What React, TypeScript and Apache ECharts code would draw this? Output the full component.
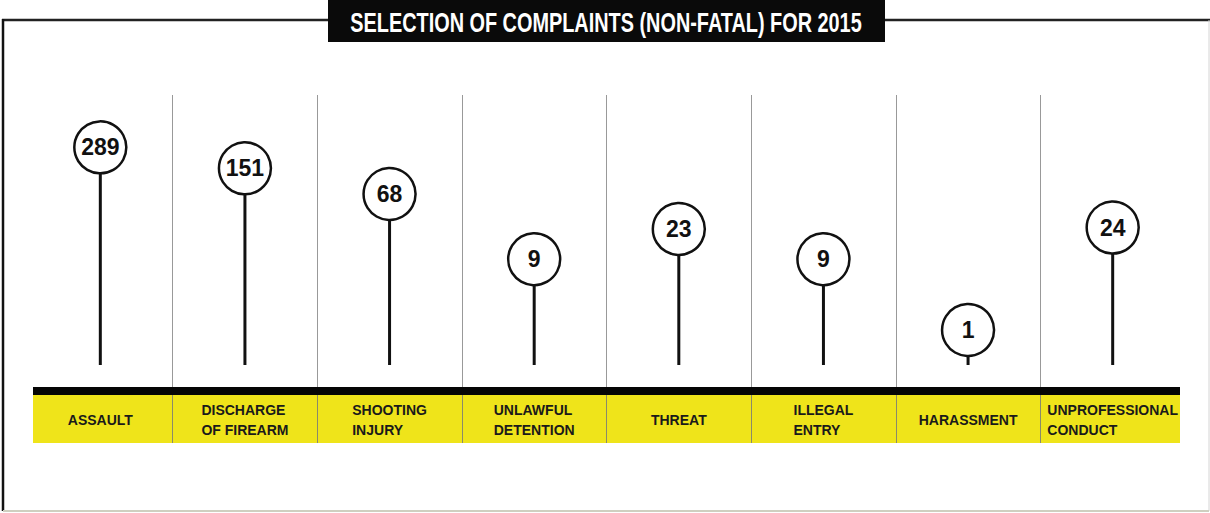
import React, { useEffect, useRef } from "react";
import * as echarts from "echarts";

const categories = [
  "ASSAULT",
  "DISCHARGE\nOF FIREARM",
  "SHOOTING\nINJURY",
  "UNLAWFUL\nDETENTION",
  "THREAT",
  "ILLEGAL\nENTRY",
  "HARASSMENT",
  "UNPROFESSIONAL\nCONDUCT",
];
const complaints = [289, 151, 68, 9, 23, 9, 1, 24];
const titleText = "SELECTION OF COMPLAINTS (NON-FATAL) FOR 2015";

const Y_MIN = 0.337;
const Y_MAX = 1468;
const FONT = "'Liberation Sans', Arial, sans-serif";

function measure(text: string, font: string): number {
  const c = document.createElement("canvas");
  const ctx = c.getContext("2d");
  if (!ctx) return 600;
  ctx.font = font;
  return ctx.measureText(text).width;
}

export default function App() {
  const ref = useRef<HTMLDivElement>(null);
  useEffect(() => {
    if (!ref.current) return;
    const chart = echarts.init(ref.current, undefined, { renderer: "svg" });
    const titleFont = `bold 28px ${FONT}`;
    const titleScale = 512 / measure(titleText, titleFont);
    const option: any = {
      animation: false,
      backgroundColor: "#ffffff",
      grid: { left: 28, right: 25, top: 95, bottom: 148 },
      xAxis: [
        {
          type: "category",
          data: categories,
          position: "bottom",
          offset: 26,
          boundaryGap: true,
          z: 3,
          axisLine: { show: false },
          axisTick: { show: true, inside: false, length: 52, lineStyle: { color: "#8a8a6a", width: 1 } },
          axisLabel: {
            show: true,
            interval: 0,
            margin: 29,
            verticalAlign: "middle",
            formatter: (v: string) => v.split("\n").map((l) => `{a|${l}}`).join("\n"),
            rich: {
              a: {
                align: "left",
                fontFamily: FONT,
                fontWeight: "bold",
                fontSize: 14,
                lineHeight: 20,
                color: "#1a1a1a",
              },
            },
          },
          splitLine: { show: true, showMinLine: false, showMaxLine: false, lineStyle: { color: "#999999", width: 1 } },
        },
        {
          type: "category",
          data: categories,
          position: "bottom",
          offset: 26,
          boundaryGap: true,
          axisLine: { show: false },
          axisTick: { show: true, inside: true, length: 26, lineStyle: { color: "#999999", width: 1 } },
          axisLabel: { show: false },
          splitLine: { show: false },
        },
      ],
      yAxis: {
        type: "log",
        logBase: 10,
        min: Y_MIN,
        max: Y_MAX,
        show: false,
        splitLine: { show: false },
      },
      graphic: [
        { type: "line", z: -20, shape: { x1: 2, y1: 20, x2: 1210, y2: 20 }, style: { stroke: "#222", lineWidth: 2.5 } },
        { type: "line", z: -20, shape: { x1: 3, y1: 19, x2: 3, y2: 511 }, style: { stroke: "#111", lineWidth: 2.5 } },
        { type: "line", z: -20, shape: { x1: 1209, y1: 20, x2: 1209, y2: 511 }, style: { stroke: "#d4d4d4", lineWidth: 1 } },
        { type: "line", z: -20, shape: { x1: 3, y1: 511, x2: 1209, y2: 511 }, style: { stroke: "#cfcfc0", lineWidth: 2 } },
        { type: "rect", z: -10, shape: { x: 328, y: 0, width: 557, height: 42 }, style: { fill: "#0a0a0a" } },
        {
          type: "text",
          z: 10,
          x: 606,
          y: 22,
          scaleX: titleScale,
          style: {
            text: titleText,
            fill: "#ffffff",
            font: titleFont,
            textAlign: "center",
            textVerticalAlign: "middle",
          },
        },
        { type: "rect", z: -5, shape: { x: 33, y: 395, width: 1147, height: 48 }, style: { fill: "#efe41a" } },
        { type: "rect", z: 20, shape: { x: 33, y: 387, width: 1147, height: 8 }, style: { fill: "#050505" } },
        { type: "rect", z: 20, shape: { x: 20, y: 355, width: 12.5, height: 95 }, style: { fill: "#ffffff" } },
        { type: "rect", z: 20, shape: { x: 1180.5, y: 355, width: 12, height: 95 }, style: { fill: "#ffffff" } },
      ],
      series: [
        {
          type: "custom",
          xAxisIndex: 0,
          data: complaints.map((v, i) => [i, v]),
          encode: { x: 0, y: 1 },
          z: 2,
          renderItem: (params: any, api: any) => {
            const i = api.value(0);
            const v = api.value(1);
            const top = api.coord([i, v]);
            const bot = api.coord([i, Y_MIN]);
            return {
              type: "line",
              shape: { x1: top[0], y1: top[1], x2: bot[0], y2: bot[1] },
              style: { stroke: "#111", lineWidth: 3 },
            };
          },
        },
        {
          type: "scatter",
          xAxisIndex: 0,
          data: complaints,
          symbol: "circle",
          symbolSize: 52,
          z: 5,
          itemStyle: { color: "#ffffff", borderColor: "#111", borderWidth: 2.5, opacity: 1 },
          label: {
            show: true,
            position: "inside",
            formatter: "{c}",
            fontFamily: FONT,
            fontWeight: "bold",
            fontSize: 23,
            color: "#111",
          },
          emphasis: { disabled: true },
        },
      ],
    };
    chart.setOption(option);
    return () => chart.dispose();
  }, []);
  return (
    <div
      ref={ref}
      style={{ position: "fixed", left: 0, top: 0, width: 1210, height: 513 }}
    />
  );
}
